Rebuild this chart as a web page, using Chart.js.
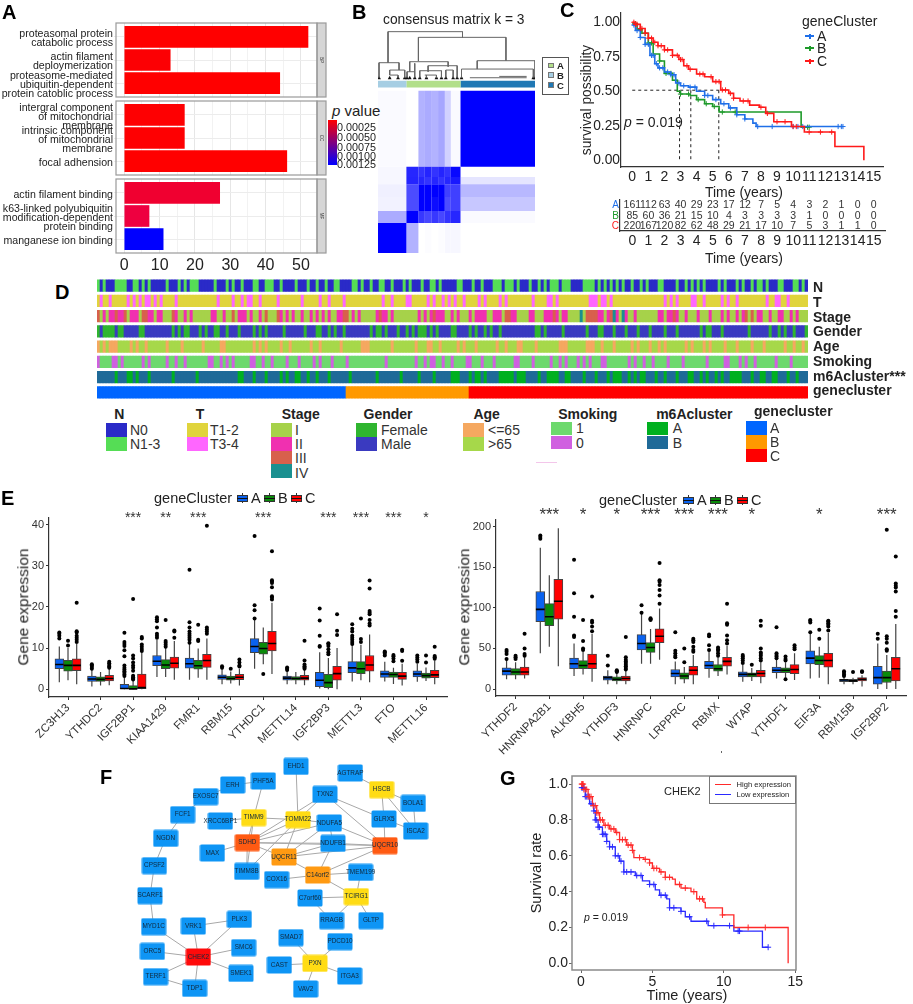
<!DOCTYPE html>
<html>
<head>
<meta charset="utf-8">
<title>Gene cluster figure</title>
<script src="https://cdn.jsdelivr.net/npm/chart.js@4"></script>
<style>
html, body { margin: 0; background: #fff; }
#figure { position: relative; width: 913px; height: 1004px; overflow: hidden; font-family: "Liberation Sans", Arial, sans-serif; }
#figure canvas { position: absolute; }
.t { position: absolute; white-space: nowrap; line-height: 1; color: #222; }
.b { position: absolute; }
</style>
</head>
<body>
<div id="figure"></div>
<script>
// ---- panel A
const goTermsBP = [['proteasomal protein', 'catabolic process'], ['actin filament', 'deploymerization'], ['proteasome-mediated', 'ubiquitin-dependent', 'protein catoblic process']];
const goTermsCC = [['intergral component', 'of mitochondrial', 'membrane'], ['intrinsic component', 'of mitochondrial', 'membrane'], ['focal adhension']];
const goTermsMF = [['actin filament binding'], ['k63-linked polyubiquitin', 'modification-dependent', 'protein binding'], ['manganese ion binding']];
const goCountsBP = [52, 13, 44];
const goCountsCC = [17, 17, 46];
const goCountsMF = [27, 7, 11];
const goColorsBP = ['#ff0000', '#fc0004', '#ff0000'];
const goColorsCC = ['#fe0002', '#fe0002', '#ff0000'];
const goColorsMF = ['#f00030', '#ee0040', '#0000ff'];
const pValueTicks = ['0.00025', '0.00050', '0.00075', '0.00100', '0.00125'];

// ---- panel B (positions in matrix units)
const matrixCols = [25, 110, 146, 165, 185, 205, 225, 243, 272, 495];
const matrixRows = [272, 500, 530, 552, 590, 632, 668, 758];
const matrixAlpha = [
  [0.02, 0, 0.3, 0.33, 0.3, 0.35, 0.18, 0.02, 1],
  [0.03, 0.85, 0.8, 0.86, 0.8, 0.86, 0.8, 0.97, 0],
  [0.03, 0.86, 0.85, 0.8, 0.85, 0.8, 0.85, 0.9, 0.1],
  [0.06, 0.7, 1, 1, 1, 1, 0.75, 0.75, 0.28],
  [0.05, 0.7, 1, 1, 0.95, 1, 0.7, 0.75, 0.22],
  [0.33, 1, 0.78, 0.72, 0.78, 0.72, 0.8, 0.85, 0.02],
  [1, 0.3, 0, 0.01, 0, 0.01, 0.03, 0.03, 0]
];
const annotEdges = [25, 110, 272, 495];
const annotColors = ['#a6cee3', '#b2df8a', '#1f78b4'];
const dendroSegs = [
  [55, 95, 278, 95], [55, 95, 55, 188], [278, 95, 278, 112], [146, 112, 408, 112], [146, 112, 146, 183], [408, 112, 408, 182],
  [322, 182, 495, 182], [322, 182, 322, 207], [495, 182, 495, 232], [275, 207, 490, 207], [275, 207, 275, 232], [490, 207, 490, 232],
  [300, 233, 470, 233], [388, 229, 470, 229],
  [28, 188, 88, 188], [28, 188, 28, 232], [88, 188, 88, 210], [60, 210, 105, 210], [60, 210, 60, 225], [105, 210, 105, 232], [60, 225, 85, 225], [85, 225, 85, 232],
  [120, 185, 235, 185], [120, 185, 120, 215], [235, 185, 235, 200], [112, 215, 135, 215], [112, 215, 112, 232], [135, 190, 135, 232],
  [175, 197, 262, 197], [175, 197, 175, 215], [262, 197, 262, 232], [150, 212, 215, 212], [150, 212, 150, 232], [215, 212, 215, 232],
  [165, 225, 200, 225], [170, 225, 170, 232], [200, 225, 200, 232], [228, 210, 250, 210], [228, 210, 228, 232], [250, 210, 250, 232]
];
const dendroLeaves = [28, 60, 85, 105, 112, 120, 135, 150, 170, 200, 215, 228, 250, 262, 275, 490, 495];

// ---- panel C
const kmYearsA = [0, 0.2, 0.5, 0.8, 1.1, 1.4, 1.6, 2, 2.4, 2.7, 3, 3.5, 4, 4.5, 5, 5.5, 6, 6.5, 7, 7.5, 7.7, 13.1];
const kmSurvA = [0.98, 0.94, 0.89, 0.84, 0.76, 0.7, 0.67, 0.64, 0.62, 0.56, 0.54, 0.53, 0.5, 0.47, 0.44, 0.41, 0.38, 0.33, 0.3, 0.27, 0.245, 0.245];
const kmYearsB = [0, 0.3, 0.6, 1, 1.3, 1.7, 2, 2.5, 2.8, 3, 3.6, 4, 4.5, 5, 5.4, 10.5, 11];
const kmSurvB = [0.99, 0.95, 0.92, 0.85, 0.77, 0.72, 0.63, 0.58, 0.5, 0.48, 0.47, 0.44, 0.41, 0.39, 0.35, 0.24, 0.24];
const kmYearsC = [0, 0.2, 0.5, 0.8, 1, 1.3, 1.6, 2, 2.5, 2.9, 3.2, 3.5, 4, 4.5, 5, 5.5, 6, 6.3, 6.7, 7.3, 7.9, 8.3, 8.8, 9.9, 10.7, 12.6, 14.4, 14.4];
const kmSurvC = [1, 0.985, 0.955, 0.92, 0.885, 0.855, 0.83, 0.8, 0.76, 0.73, 0.685, 0.66, 0.625, 0.605, 0.57, 0.51, 0.485, 0.45, 0.43, 0.4, 0.385, 0.34, 0.28, 0.245, 0.205, 0.1, 0, 0];
const censorA = [0.1, 0.3, 0.5, 0.8, 1, 1.2, 1.3, 1.5, 1.7, 1.9, 2.2, 2.4, 2.6, 2.9, 3.2, 3.6, 3.9, 4.5, 4.7, 5.2, 5.7, 6.1, 6.5, 7, 7.8, 8.7, 10, 10.3, 10.6, 12.8, 13, 13.1];
const censorB = [0.2, 0.5, 0.8, 1, 1.2, 1.7, 2.1, 2.4, 2.7, 3, 3.5, 4.1, 4.6, 5.1, 5.6, 6.4, 10.9, 11];
const censorC = [0.1, 0.2, 0.3, 0.5, 0.6, 0.8, 1, 1.2, 1.4, 1.6, 1.8, 2, 2.2, 2.5, 2.8, 3, 3.1, 3.4, 3.6, 4.2, 4.4, 4.9, 5.2, 5.4, 5.6, 5.8, 6.1, 6.3, 6.9, 7.2, 8, 8.4, 9, 9.5, 10, 10.2, 11, 11.7, 12.4];
const medianYears = [2.94, 3.64, 5.38];
const kmTicks = [0, 1, 2, 3, 4, 5, 6, 7, 8, 9, 10, 11, 12, 13, 14, 15];
const survTicks = [0, 0.25, 0.5, 0.75, 1];
const riskA = [161, 112, 63, 40, 29, 23, 17, 12, 7, 5, 4, 3, 2, 1, 0, 0];
const riskB = [85, 60, 36, 21, 15, 10, 4, 3, 3, 3, 3, 1, 0, 0, 0, 0];
const riskC = [220, 167, 120, 82, 62, 48, 29, 21, 17, 10, 7, 5, 3, 1, 1, 0];

// ---- panel D: sample bins holding the less common level of each track
const sampleCount = 237;
const nGreen = [0, 2, 6, 7, 8, 9, 12, 13, 15, 17, 23, 27, 29, 31, 32, 33, 39, 43, 45, 48, 52, 53, 56, 57, 58, 61, 66, 70, 73, 76, 79, 80, 85, 86, 88, 91, 94, 95, 98, 102, 104, 108, 111, 112, 114, 120, 121, 125, 128, 132, 133, 134, 136, 137, 138, 140, 144, 147, 149, 151, 152, 153, 155, 156, 157, 162, 163, 164, 165, 167, 169, 171, 173, 175, 178, 181, 183, 187, 188, 193, 196, 198, 200, 202, 207, 209, 213, 215, 218, 220, 221, 223, 227, 228, 232, 233, 235];
const tPink = [1, 4, 10, 12, 14, 16, 17, 19, 21, 26, 40, 45, 48, 50, 51, 54, 60, 68, 74, 77, 82, 95, 98, 103, 104, 110, 112, 115, 117, 119, 122, 127, 129, 134, 136, 145, 150, 151, 153, 164, 165, 166, 168, 169, 171, 189, 191, 193, 198, 199, 202, 208, 210, 213, 223, 226, 227, 230];
const stageII = [2, 4, 5, 7, 8, 11, 12, 13, 17, 18, 20, 21, 26, 29, 31, 38, 39, 42, 47, 48, 49, 51, 54, 61, 63, 65, 68, 71, 73, 75, 77, 80, 81, 85, 87, 93, 95, 96, 98, 107, 109, 111, 113, 114, 115, 118, 120, 124, 126, 127, 128, 129, 132, 133, 134, 138, 139, 144, 145, 149, 150, 151, 153, 155, 156, 167, 168, 170, 173, 176, 179, 187, 188, 190, 191, 193, 196, 200, 204, 208, 210, 213, 215, 220, 221, 224, 227, 228, 231, 233];
const stageIII = [0, 6, 9, 15, 16, 25, 45, 56, 60, 82, 83, 94, 112, 136, 137, 152, 163, 164, 165, 166, 171, 192, 216, 218];
const stageIV = [161, 172, 175];
const genderGreen = [0, 2, 3, 4, 5, 7, 8, 14, 15, 25, 27, 29, 30, 34, 36, 39, 40, 43, 47, 52, 54, 56, 62, 69, 73, 74, 77, 79, 82, 91, 93, 94, 96, 100, 103, 105, 107, 108, 109, 111, 113, 118, 119, 124, 126, 129, 131, 134, 146, 147, 149, 155, 163, 167, 168, 172, 176, 180, 184, 189, 193, 201, 203, 204, 208, 217, 224, 227, 229, 232, 236];
const ageOrange = [0, 2, 4, 5, 6, 11, 13, 16, 23, 28, 35, 41, 42, 52, 54, 56, 61, 64, 71, 74, 81, 88, 89, 90, 98, 106, 110, 111, 114, 120, 122, 126, 133, 136, 140, 141, 146, 154, 155, 156, 163, 164, 165, 168, 172, 178, 180, 184, 187, 189, 196, 198, 202, 204, 209, 213, 218, 222, 229, 232, 235];
const smokingPurple = [0, 5, 6, 8, 15, 17, 23, 26, 29, 37, 38, 41, 43, 45, 51, 52, 55, 58, 63, 67, 72, 74, 78, 83, 96, 106, 109, 111, 112, 115, 118, 123, 124, 128, 132, 139, 140, 145, 151, 154, 156, 160, 162, 164, 168, 169, 177, 179, 182, 185, 190, 195, 203, 209, 210, 214, 216, 219, 226, 231];
const m6aGreen = [6, 10, 11, 13, 17, 25, 33, 47, 48, 52, 56, 61, 63, 66, 67, 70, 73, 77, 84, 93, 101, 107, 112, 118, 119, 120, 124, 126, 127, 129, 134, 135, 136, 137, 138, 140, 141, 142, 147, 150, 151, 152, 153, 156, 157, 162, 166, 170, 172, 173, 174, 177, 179, 181, 182, 186, 189, 193, 197, 198, 201, 203, 206, 208, 211, 212, 213, 214, 218, 221, 222, 225, 226, 230, 233];
const geneClusterRuns = [83, 41, 113];
const trackNames = ['N', 'T', 'Stage', 'Gender', 'Age', 'Smoking', 'm6Acluster***', 'genecluster'];

// ---- panel E
const genesLeft = ['ZC3H13', 'YTHDC2', 'IGF2BP1', 'KIAA1429', 'FMR1', 'RBM15', 'YTHDC1', 'METTL14', 'IGF2BP3', 'METTL3', 'FTO', 'METTL16'];
const starsLeft = ['', '', '***', '**', '***', '', '***', '', '***', '***', '***', '*'];
// low whisker, q1, median, q3, high whisker
const leftA = [[1.7, 5, 6, 7.4, 10.4], [0.7, 1.9, 2.5, 3.2, 4.8], [0, 0, 0.2, 1.2, 3], [3, 5.7, 6.8, 8.2, 12], [2.3, 5.1, 6.2, 7.6, 11], [1.2, 2.4, 2.9, 3.5, 5], [5, 8.9, 10.4, 12.3, 17], [1.2, 2.2, 2.7, 3.2, 4.5], [0.2, 0.6, 2.2, 4.1, 9], [1.9, 4, 5.2, 6.7, 10.8], [1.9, 2.9, 3.7, 4.5, 6.7], [1.8, 3, 3.7, 4.5, 6.2]];
const leftB = [[2.2, 4.4, 5.8, 7, 10], [0.9, 1.9, 2.4, 3, 4.2], [0, 0, 0.1, 0.9, 2.2], [3, 5, 5.9, 7.2, 10], [2.8, 4.9, 5.7, 7, 9.9], [1.4, 2.2, 2.6, 3.2, 4.3], [6.1, 8.5, 9.9, 11.4, 15], [1.2, 2.2, 2.6, 3.1, 4.2], [0, 0.4, 1.6, 3.6, 7.6], [2.2, 3.8, 5, 6.7, 10.8], [1.3, 2.9, 3.6, 4.2, 5.2], [2, 2.7, 3.3, 3.9, 5.3]];
const leftC = [[1.2, 4.5, 5.8, 7.4, 11], [1, 2, 2.6, 3.4, 5], [0, 0, 0.4, 3.7, 9], [2.3, 5.1, 6.3, 7.8, 11.7], [2.3, 5.3, 7, 8.5, 12.3], [0.9, 2.3, 2.9, 3.6, 5], [3.7, 9.3, 11.1, 14.1, 21], [1, 2.2, 2.7, 3.4, 4.8], [0, 2.2, 3.8, 5.6, 10], [1.7, 4.4, 5.9, 8.2, 13.3], [0.9, 2.4, 3.2, 4.1, 6.2], [1.2, 2.8, 3.5, 4.6, 7]];
const leftOutA = [[12.3, 13, 13.5, 13.8], [5, 5.4, 5.8, 6.1], [3.2, 3.6, 4, 4.4, 4.8, 5.2, 5.8, 8, 9.5, 10.5, 11, 11.5, 13.7], [12.5, 13, 13.5, 15, 16.5, 17, 17.5], [11.3, 12, 12.5, 13, 13.5, 14, 15, 16.3, 29], [5.2, 5.6], [17.2, 19.2, 20.4, 37.2], [4.7, 5, 5.3], [10.3, 10.5, 13, 16.7, 19.6], [11, 11.5, 12, 12.5, 13, 14, 14.7, 15.8], [8.2, 8.6, 9, 9.2], [6.7, 7.2, 7.7, 8.2]];
const leftOutB = [[10.6, 11.8], [], [2.4, 2.6, 2.9, 3.3, 4.5, 5.2, 5.8, 6.5, 7.5, 8.2, 21.9], [10.3, 10.8, 11.3, 11.7, 16.8], [11.7, 12, 15.7], [5], [3.7], [], [8.5, 9, 9.7, 10.5, 11, 11.2], [11.5, 12.2, 17.2], [6.8, 7.5, 8, 8.3], [6.5, 8.2]];
const leftOutC = [[11.5, 12, 12.5, 13, 13.8, 14.1, 21], [5.2, 5.5, 5.9, 6.3, 6.7], [9.3, 9.8, 10.3, 10.9, 12.3, 12.7], [12.5, 14, 14.3], [13.5, 14, 14.5, 15, 39.7], [5.5, 5.8, 6.5, 7.2], [21.8, 22.3, 22.6, 24.8, 25.8, 26.2, 26.5, 33.5], [5, 5.3, 5.6, 6, 7, 11.8], [13.2, 14.2, 18.2], [15.5, 16, 16.8, 18.2, 18.6, 19, 24.5, 26.4], [6.9, 9.3, 9.6], [7.4, 7.8, 8.1, 10.3]];
const genesRight = ['YTHDF2', 'HNRNPA2B1', 'ALKBH5', 'YTHDF3', 'HNRNPC', 'LRPPRC', 'RBMX', 'WTAP', 'YTHDF1', 'EIF3A', 'RBM15B', 'IGF2BP2'];
const starsRight = ['', '***', '*', '*', '***', '***', '***', '*', '', '*', '', '***'];
const rightA = [[12, 17, 22, 26, 36], [44, 83, 98, 120, 174], [16, 25, 31, 38, 56], [6, 11, 14, 16, 23], [31, 48, 56, 67, 93], [6, 15, 19, 24, 34], [14, 25, 29, 34, 47], [9, 15, 18, 21, 30], [13, 20, 23, 27, 36], [13, 31, 38, 47, 68], [6, 9, 11, 12, 15], [0, 6, 14, 28, 56]];
const rightB = [[12, 17, 21, 25, 33], [52, 78, 89, 105, 140], [18, 25, 29, 35, 46], [6, 10, 12, 15, 20], [31, 45, 51, 57, 74], [7, 12, 16, 20, 27], [16, 22, 25, 30, 39], [10, 15, 18, 20, 26], [14, 20, 23, 26, 33], [14, 30, 35, 41, 52], [6, 9, 10, 12, 14], [0, 8, 14, 22, 42]];
const rightC = [[13, 17, 21, 27, 39], [28, 86, 108, 135, 198], [9, 25, 31, 43, 68], [6, 10, 13, 16, 23], [36, 57, 65, 74, 99], [6, 17, 23, 28, 42], [18, 28, 34, 39, 53], [7, 15, 19, 23, 33], [11, 19, 24, 30, 44], [6, 27, 35, 44, 69], [3, 10, 12, 14, 17], [0, 10, 25, 39, 80]];
const rightOutA = [[37, 43, 46, 48], [185, 187, 189], [64, 66, 89, 118, 159], [29, 41], [94, 103], [39, 41, 44, 47, 70], [48, 54, 65, 67], [32, 35, 38, 40, 42], [38, 40, 42, 44, 76], [70, 82, 84, 85], [16, 18, 20, 22], [62, 68]];
const rightOutB = [[37, 39, 41], [], [48, 50, 59, 85], [21, 22, 23], [85, 86, 87], [33, 50], [41, 44, 47, 49, 51], [30], [12, 35, 37, 40], [62, 73], [21], [47, 49, 57, 62, 65, 196]];
const rightOutC = [[41, 43, 50, 68], [], [71, 77, 82, 84, 114], [24, 26, 28, 30, 32, 34, 36, 39, 64], [105, 115, 122, 128, 132, 134, 155], [46, 48, 52, 58, 60, 62], [56, 60, 66, 79, 81, 105], [35, 38, 41, 43, 45, 50, 78, 84], [49, 51, 54], [72, 77, 79, 81, 83, 84], [21, 22], [89, 96, 120, 125, 127, 130, 163]];

// ---- panel F
const nodeNames = ['EHD1', 'PHF5A', 'ERH', 'AGTRAP', 'HSCB', 'TXN2', 'BOLA1', 'EXOSC7', 'FCF1', 'XRCC6BP1', 'TIMM9', 'TOMM22', 'NDUFA5', 'GLRX5', 'ISCA2', 'NGDN', 'SDHD', 'NDUFB1', 'UQCR10', 'MAX', 'UQCR11', 'CPSF2', 'TIMM8B', 'C14orf2', 'TMEM199', 'COX16', 'SCARF1', 'C7orf60', 'TCIRG1', 'RRAGB', 'GLTP', 'MYD1C', 'VRK1', 'PLK3', 'SMAD7', 'PDCD10', 'SMC6', 'ORC5', 'CHEK2', 'SMEK1', 'PXN', 'CAST', 'ITGA3', 'TERF1', 'TDP1', 'VAV2'];
const nodeX = [828, 730, 638, 991, 1085, 915, 1180, 557, 488, 601, 701, 834, 928, 1092, 1187, 437, 682, 939, 1095, 577, 792, 403, 680, 893, 1022, 770, 390, 870, 1009, 935, 1053, 401, 520, 658, 813, 960, 671, 397, 535, 663, 885, 778, 989, 407, 524, 857];
const nodeY = [64, 108, 120, 84, 134, 148, 175, 155, 209, 228, 218, 224, 234, 222, 258, 280, 293, 295, 302, 324, 336, 362, 379, 390, 382, 404, 452, 459, 455, 527, 527, 545, 543, 523, 578, 590, 608, 619, 636, 685, 655, 660, 693, 695, 730, 732];
const redNodes = ['CHEK2'];
const deepOrangeNodes = ['SDHD', 'UQCR10'];
const orangeNodes = ['UQCR11', 'C14orf2'];
const yellowNodes = ['TIMM9', 'TOMM22', 'HSCB', 'TCIRG1', 'PXN'];
const edgePairs = [['PHF5A', 'ERH'], ['PHF5A', 'TIMM9'], ['ERH', 'EXOSC7'], ['EXOSC7', 'FCF1'], ['FCF1', 'NGDN'], ['NGDN', 'CPSF2'], ['CPSF2', 'SCARF1'], ['SCARF1', 'MYD1C'], ['MYD1C', 'CHEK2'], ['VRK1', 'CHEK2'], ['VRK1', 'PLK3'], ['PLK3', 'CHEK2'], ['SMC6', 'CHEK2'], ['SMEK1', 'CHEK2'], ['ORC5', 'CHEK2'], ['TERF1', 'CHEK2'], ['TERF1', 'TDP1'], ['TDP1', 'CHEK2'], ['EHD1', 'TOMM22'], ['TIMM9', 'XRCC6BP1'], ['TIMM9', 'TOMM22'], ['TIMM9', 'SDHD'], ['TOMM22', 'TXN2'], ['TOMM22', 'SDHD'], ['TOMM22', 'NDUFA5'], ['TOMM22', 'UQCR11'], ['TOMM22', 'TIMM8B'], ['TXN2', 'UQCR10'], ['TXN2', 'SDHD'], ['TXN2', 'GLRX5'], ['NDUFA5', 'SDHD'], ['NDUFA5', 'UQCR10'], ['NDUFA5', 'UQCR11'], ['NDUFB1', 'SDHD'], ['NDUFB1', 'UQCR11'], ['NDUFB1', 'UQCR10'], ['NDUFB1', 'C14orf2'], ['NDUFA5', 'NDUFB1'], ['UQCR10', 'SDHD'], ['UQCR10', 'UQCR11'], ['UQCR10', 'C14orf2'], ['UQCR11', 'SDHD'], ['UQCR11', 'C14orf2'], ['SDHD', 'MAX'], ['SDHD', 'TIMM8B'], ['TIMM9', 'TIMM8B'], ['C14orf2', 'COX16'], ['C14orf2', 'TMEM199'], ['C14orf2', 'TCIRG1'], ['TMEM199', 'TCIRG1'], ['C7orf60', 'TCIRG1'], ['C7orf60', 'RRAGB'], ['RRAGB', 'TCIRG1'], ['GLTP', 'TCIRG1'], ['AGTRAP', 'HSCB'], ['HSCB', 'GLRX5'], ['HSCB', 'BOLA1'], ['HSCB', 'ISCA2'], ['BOLA1', 'ISCA2'], ['GLRX5', 'ISCA2'], ['GLRX5', 'UQCR10'], ['SMAD7', 'PXN'], ['PDCD10', 'PXN'], ['CAST', 'PXN'], ['VAV2', 'PXN'], ['ITGA3', 'PXN']];

// ---- panel G
const gYearsHigh = [0, 0.2, 0.5, 0.8, 1.1, 1.3, 1.6, 2, 2.4, 2.7, 3.2, 3.6, 3.7, 4.4, 4.8, 5, 5.5, 5.9, 6.4, 6.6, 7, 7.7, 8.1, 8.6, 8.7, 9.9, 10.7, 14.5, 14.5];
const gSurvHigh = [1, 0.97, 0.93, 0.88, 0.84, 0.8, 0.77, 0.75, 0.73, 0.69, 0.66, 0.63, 0.59, 0.58, 0.56, 0.53, 0.51, 0.48, 0.47, 0.44, 0.42, 0.4, 0.36, 0.34, 0.31, 0.27, 0.2, 0, 0];
const gYearsLow = [0, 0.3, 0.6, 0.9, 1, 1.2, 1.5, 1.8, 2, 2.4, 2.7, 3, 3.8, 4.3, 4.8, 5.2, 5.5, 6, 6.2, 7, 7.3, 7.7, 8.9, 10.7, 12.7, 13.1];
const gSurvLow = [0.98, 0.93, 0.89, 0.85, 0.8, 0.76, 0.72, 0.68, 0.65, 0.6, 0.57, 0.51, 0.49, 0.46, 0.44, 0.41, 0.38, 0.36, 0.31, 0.29, 0.26, 0.235, 0.21, 0.18, 0.09, 0.09];
const gCensorHigh = [0.05, 0.1, 0.15, 0.2, 0.3, 0.4, 0.5, 0.6, 0.7, 0.85, 1, 1.1, 1.2, 1.35, 1.5, 1.7, 1.9, 2.1, 2.3, 2.5, 2.7, 2.9, 3.1, 3.3, 3.5, 3.6, 4.1, 4.5, 4.8, 5.1, 5.3, 5.6, 5.9, 6.2, 6.9, 7.3, 7.9, 8.3, 8.5, 9.9, 11.7, 12.9];
const gCensorLow = [0.05, 0.1, 0.2, 0.3, 0.4, 0.5, 0.7, 0.9, 1, 1.1, 1.2, 1.3, 1.5, 1.6, 1.7, 1.8, 2, 2.2, 2.4, 2.6, 2.8, 3, 3.2, 3.5, 3.9, 4.2, 4.8, 5.1, 5.6, 5.9, 6.2, 6.5, 7, 7.6, 8.8, 9.3, 10.4, 11, 11.1, 13.1];
const gXTicks = [0, 5, 10, 15];
const gYTicks = [0, 0.2, 0.4, 0.6, 0.8, 1];

// ---- helpers
Chart.defaults.responsive = false;
Chart.defaults.maintainAspectRatio = false;
Chart.defaults.animation = false;
Chart.defaults.events = [];
Chart.defaults.layout.autoPadding = false;
Chart.defaults.font.family = '"Liberation Sans", Arial, sans-serif';
Chart.defaults.plugins.legend.display = false;
Chart.defaults.plugins.tooltip.enabled = false;

const figure = document.getElementById('figure');
const noPad = s => { s.paddingLeft = s.paddingRight = s.paddingTop = s.paddingBottom = 0; };
// fixed axis room, so every plot area lands where the figure has it
const fitX = room => s => { s.height = room; noPad(s); };
const fitY = room => s => { s.width = room; noPad(s); };
const setTicks = vals => s => { s.ticks = vals.map(v => ({ value: v })); };

function panel(x, y, w, h) {
  const c = document.createElement('canvas');
  c.width = w;
  c.height = h;
  c.style.left = x + 'px';
  c.style.top = y + 'px';
  figure.appendChild(c);
  return c;
}

function txt(s, x, y, o = {}) {
  const d = document.createElement('div');
  d.className = 't';
  d.innerHTML = s;
  d.style.left = x + 'px';
  d.style.top = y + 'px';
  d.style.fontSize = (o.size || 12) + 'px';
  if (o.bold) d.style.fontWeight = 'bold';
  if (o.color) d.style.color = o.color;
  const ax = o.align === 'center' ? '-50%' : o.align === 'right' ? '-100%' : '0';
  d.style.transform = `translate(${ax},-50%)` + (o.rot ? ` rotate(${o.rot}deg)` : '');
  figure.appendChild(d);
}

function box(x, y, w, h, color, border) {
  const d = document.createElement('div');
  d.className = 'b';
  d.style.cssText = `left:${x}px;top:${y}px;width:${w}px;height:${h}px;background:${color};` + (border ? `border:${border};box-sizing:border-box;` : '');
  figure.appendChild(d);
  return d;
}

function stepAt(years, surv, t) {
  let v = surv[0];
  for (let i = 0; i < years.length; i++) if (years[i] <= t) v = surv[i];
  return v;
}

function kmLine(years, surv, color, width) {
  return { type: 'scatter', showLine: true, stepped: 'before', data: years.map((x, i) => ({ x, y: surv[i] })), borderColor: color, borderWidth: width, pointRadius: 0, fill: false };
}

function kmCensor(marks, years, surv, color, radius) {
  return { type: 'scatter', data: marks.map(t => ({ x: t, y: stepAt(years, surv, t) })), pointStyle: 'cross', pointRadius: radius, borderColor: color, borderWidth: 1, backgroundColor: color };
}

function segments(list) {
  const pts = [];
  list.forEach(s => { pts.push({ x: s[0], y: s[1] }, { x: s[2], y: s[3] }, { x: NaN, y: NaN }); });
  return pts;
}

function rectShape(x0, x1, y0, y1, color) {
  return { type: 'scatter', showLine: true, fill: 'shape', backgroundColor: color, borderWidth: 0, pointRadius: 0, data: [{ x: x0, y: y0 }, { x: x1, y: y0 }, { x: x1, y: y1 }, { x: x0, y: y1 }, { x: x0, y: y0 }] };
}

// ---- panel A charts
const facetPlugin = {
  id: 'facet',
  afterDraw(chart, args, opts) {
    const { ctx, chartArea: a } = chart;
    ctx.save();
    ctx.strokeStyle = '#9a9a9a';
    ctx.lineWidth = 1.2;
    ctx.fillStyle = '#d6d6d6';
    ctx.fillRect(a.right, a.top, 9, a.bottom - a.top);
    ctx.strokeRect(a.right, a.top, 9, a.bottom - a.top);
    ctx.strokeRect(a.left, a.top, a.right - a.left, a.bottom - a.top);
    ctx.translate(a.right + 4.5, (a.top + a.bottom) / 2);
    ctx.rotate(Math.PI / 2);
    ctx.fillStyle = '#333';
    ctx.font = '4.5px "Liberation Sans"';
    ctx.textAlign = 'center';
    ctx.textBaseline = 'middle';
    ctx.fillText(opts.name, 0, 0);
    ctx.restore();
  }
};

function goFacet(top, terms, counts, colors, name, withAxis) {
  const h = 74;
  const bottomRoom = withAxis ? 22 : 2;
  new Chart(panel(0, top - 2, 330, h + 2 + bottomRoom), {
    type: 'bar',
    plugins: [facetPlugin],
    data: { datasets: [{ data: counts.map((v, i) => ({ x: v, y: i })), backgroundColor: colors, barThickness: 21, indexAxis: 'y' }] },
    options: {
      indexAxis: 'y',
      layout: { padding: { right: 13, top: 2 } },
      plugins: { facet: { name } },
      scales: {
        x: {
          type: 'linear', min: -2.35, max: 54.55, afterFit: fitX(bottomRoom), afterBuildTicks: setTicks([0, 5, 10, 15, 20, 25, 30, 35, 40, 45, 50]),
          grid: { color: c => (c.tick && c.tick.value % 10 === 0 ? '#e6e6e6' : '#f2f2f2'), drawTicks: false },
          border: { display: false },
          ticks: { display: withAxis, maxRotation: 0, autoSkip: false, padding: 3, color: '#222', font: { size: 16 }, callback: v => (v % 10 === 0 ? v : '') }
        },
        y: {
          type: 'linear', reverse: true, offset: false, min: -0.6, max: 2.6, afterFit: fitY(116), afterBuildTicks: setTicks([0, 1, 2]),
          grid: { offset: false, color: '#ececec', tickLength: 2 },
          border: { display: false },
          ticks: { autoSkip: false, padding: 1, labelOffset: 2, color: '#222', font: { size: 10.6, lineHeight: 0.86 }, callback: v => terms[v] }
        }
      }
    }
  });
}
goFacet(23, goTermsBP, goCountsBP, goColorsBP, 'BP', false);
goFacet(101, goTermsCC, goCountsCC, goColorsCC, 'CC', false);
goFacet(179, goTermsMF, goCountsMF, goColorsMF, 'MF', true);

// p value colour bar
txt('<i>p</i> value', 332, 110, { size: 15 });
box(328, 120, 9, 45, 'linear-gradient(#ff0000,#0000ff)');
[127, 137, 146.5, 155.5, 164].forEach((y, i) => txt(pValueTicks[i], 337, y, { size: 10.8 }));

// ---- panel B chart
const matrixSets = [];
matrixAlpha.forEach((row, r) => row.forEach((a, c) => {
  if (a > 0) matrixSets.push(rectShape(matrixCols[c], matrixCols[c + 1], matrixRows[r], matrixRows[r + 1], `rgba(0,0,255,${a})`));
}));
annotColors.forEach((col, i) => matrixSets.push(rectShape(annotEdges[i], annotEdges[i + 1], 242, 262, col)));
matrixSets.push({ type: 'scatter', showLine: true, data: segments(dendroSegs), borderColor: '#666', borderWidth: 1, pointRadius: 0, fill: false });
matrixSets.push({ type: 'scatter', data: dendroLeaves.map(x => ({ x, y: 234 })), pointStyle: 'triangle', pointRadius: 2.2, backgroundColor: '#111', borderWidth: 0 });
new Chart(panel(378, 30, 157, 223), {
  type: 'scatter',
  data: { datasets: matrixSets },
  options: {
    scales: {
      x: { type: 'linear', display: false, min: 25, max: 495 },
      y: { type: 'linear', display: false, min: 90, max: 758, reverse: true }
    }
  }
});
txt('consensus matrix k = 3', 383, 20, { size: 13.8 });
box(542, 57, 27, 38, '#fff', '1px solid #555');
annotColors.forEach((col, i) => {
  const order = [1, 0, 2][i];
  box(548, 62.5 + order * 9.8, 6, 5.8, col, '1px solid #777');
  txt(['B', 'A', 'C'][i], 557, 66 + order * 9.8, { size: 9.5, bold: true });
});

// ---- panel C charts
const medianLines = segments([[0, 0.508, 5.38, 0.508]].concat(medianYears.map(t => [t, 0.508, t, 0])));
new Chart(panel(580, 0, 333, 200), {
  type: 'scatter',
  data: {
    datasets: [
      kmCensor(censorC, kmYearsC, kmSurvC, '#ff1a1a', 2.6), kmLine(kmYearsC, kmSurvC, '#ff1a1a', 1.6),
      kmCensor(censorA, kmYearsA, kmSurvA, '#1f6fe8', 2.6), kmLine(kmYearsA, kmSurvA, '#1f6fe8', 1.6),
      kmCensor(censorB, kmYearsB, kmSurvB, '#1e9a2a', 2.6), kmLine(kmYearsB, kmSurvB, '#1e9a2a', 1.6),
      { type: 'scatter', showLine: true, data: medianLines, borderColor: '#222', borderWidth: 1, borderDash: [3, 3], pointRadius: 0, fill: false }
    ]
  },
  options: {
    layout: { padding: { right: 30, top: 13 } },
    scales: {
      x: { type: 'linear', min: -0.7, max: 15.59, afterFit: fitX(33), afterBuildTicks: setTicks(kmTicks), grid: { display: false, tickLength: 0 }, border: { color: '#333', width: 1.2 }, ticks: { autoSkip: false, maxRotation: 0, padding: 2, color: '#222', font: { size: 14 } } },
      y: { type: 'linear', min: -0.048, max: 1.067, afterFit: fitY(41), afterBuildTicks: setTicks(survTicks), grid: { display: false, tickLength: 0 }, border: { color: '#333', width: 1.2 }, ticks: { autoSkip: false, padding: 1, color: '#222', font: { size: 13.8 }, callback: v => v.toFixed(2) } }
    }
  }
});
txt('survival possibility', 587, 100, { size: 13.8, align: 'center', rot: -90 });
txt('Time (years)', 744, 192, { size: 14, align: 'center' });
txt('<i>p</i> = 0.019', 624, 122, { size: 14 });
txt('geneCluster', 802, 21, { size: 14 });
[['A', '#1f6fe8', 36], ['B', '#1e9a2a', 48], ['C', '#ff1a1a', 61]].forEach(k => {
  box(805, k[2] - 1, 9, 2, k[1]);
  box(809, k[2] - 2.5, 1.5, 5, k[1]);
  txt(k[0], 817, k[2], { size: 14 });
});

const countPlugin = {
  id: 'counts',
  afterDatasetsDraw(chart) {
    const { ctx } = chart;
    ctx.save();
    ctx.font = '10.5px "Liberation Sans"';
    ctx.fillStyle = '#333';
    ctx.textAlign = 'center';
    ctx.textBaseline = 'middle';
    chart.data.datasets.forEach((ds, i) => {
      chart.getDatasetMeta(i).data.forEach((pt, j) => ctx.fillText(ds.counts[j], pt.x, pt.y));
    });
    ctx.restore();
  }
};
const riskRows = [riskC, riskB, riskA];
new Chart(panel(580, 198, 333, 70), {
  type: 'scatter',
  plugins: [countPlugin],
  data: { datasets: riskRows.map((row, r) => ({ counts: row, pointRadius: 0, data: kmTicks.map(t => ({ x: t, y: r })) })) },
  options: {
    layout: { padding: { right: 28, top: 2 } },
    scales: {
      x: { type: 'linear', min: -0.764, max: 15.7, afterFit: fitX(37), afterBuildTicks: setTicks(kmTicks), grid: { display: false, tickLength: 0 }, border: { color: '#333', width: 1.2 }, ticks: { autoSkip: false, maxRotation: 0, padding: 2, color: '#222', font: { size: 14 } } },
      y: { type: 'linear', min: -0.49, max: 2.55, afterFit: fitY(40), afterBuildTicks: setTicks([0, 1, 2]), grid: { display: false, tickLength: 0 }, border: { color: '#333', width: 1.2 }, ticks: { autoSkip: false, padding: 1, color: c => ['#ff1a1a', '#1e9a2a', '#1f6fe8'][c.tick.value], font: { size: 10 }, callback: v => ['C', 'B', 'A'][v] } }
    }
  }
});
txt('Time (years)', 744, 258, { size: 14, align: 'center' });

// ---- panel D chart
const sampleLabels = Array.from({ length: sampleCount }, (_, i) => i + 1);
function twoLevel(list, base, other) {
  const out = new Array(sampleCount).fill(base);
  list.forEach(i => { out[i] = other; });
  return out;
}
const stageColors = new Array(sampleCount).fill('#a6d24a');
stageII.forEach(i => { stageColors[i] = '#f030b0'; });
stageIII.forEach(i => { stageColors[i] = '#d8604c'; });
stageIV.forEach(i => { stageColors[i] = '#1a9090'; });
const clusterColors = [];
['#0066ff', '#ff9900', '#ff0000'].forEach((c, i) => { for (let n = 0; n < geneClusterRuns[i]; n++) clusterColors.push(c); });
const trackColors = [
  twoLevel(nGreen, '#2a2ac8', '#55dd55'), twoLevel(tPink, '#e0d43c', '#ff66ff'), stageColors,
  twoLevel(genderGreen, '#3a3ac0', '#2fb52f'), twoLevel(ageOrange, '#a6d84a', '#f5a860'),
  twoLevel(smokingPurple, '#6dd96d', '#d060e0'), twoLevel(m6aGreen, '#1f6a98', '#00b020'), clusterColors
];
new Chart(panel(97, 278, 711, 122), {
  type: 'bar',
  data: {
    labels: sampleLabels,
    datasets: trackColors.map((colors, t) => ({ label: trackNames[t], data: sampleLabels.map(() => [t + 0.12, t + 0.88]), backgroundColor: colors, borderWidth: 0, barPercentage: 1, categoryPercentage: 1, grouped: false }))
  },
  options: {
    scales: {
      x: { display: false },
      y: { display: false, min: 0, max: 8, reverse: true }
    }
  }
});
trackNames.forEach((n, i) => txt(n, 813, [286.7, 301.7, 316.7, 331, 345.7, 361, 375.7, 390][i], { size: 14, bold: true }));

// D legends
const dLegends = [
  { title: 'N', cx: 119.3, tx: 130, x: 105.7, items: [['N0', '#2a2ac8'], ['N1-3', '#55dd55']], top: 423, ty: 414 },
  { title: 'T', cx: 200, tx: 210, x: 186.7, items: [['T1-2', '#e0d43c'], ['T3-4', '#ff66ff']], top: 423, ty: 414 },
  { title: 'Stage', cx: 300.7, tx: 295, x: 271, items: [['I', '#a6d24a'], ['II', '#f030b0'], ['III', '#d8604c'], ['IV', '#1a9090']], top: 423, ty: 414 },
  { title: 'Gender', cx: 388, tx: 381, x: 355.7, items: [['Female', '#2fb52f'], ['Male', '#3a3ac0']], top: 423, ty: 414 },
  { title: 'Age', cx: 486.7, tx: 488, x: 463.3, items: [['&lt;=65', '#f5a860'], ['&gt;65', '#a6d84a']], top: 423, ty: 414 },
  { title: 'Smoking', cx: 587.7, tx: 576, x: 550.7, items: [['1', '#6dd96d'], ['0', '#d060e0']], top: 421.7, ty: 414 },
  { title: 'm6Acluster', cx: 694.3, tx: 672.7, x: 647.3, items: [['A', '#00b020'], ['B', '#1f6a98']], top: 421.7, ty: 414 },
  { title: 'genecluster', cx: 793.3, tx: 770, x: 745.7, items: [['A', '#0066ff'], ['B', '#ff9900'], ['C', '#ff0000']], top: 421, ty: 411 }
];
dLegends.forEach(g => {
  txt(g.title, g.cx, g.ty, { size: 14, bold: true, align: 'center' });
  g.items.forEach((it, i) => {
    box(g.x, g.top + i * 13.8, 21.2, 13.8, it[1]);
    txt(it[0], g.tx, g.top + 6.5 + i * 14.4, { size: 14, color: '#333' });
  });
});
box(536, 461.5, 21, 1, '#f3c6ea');

// ---- panel E charts
function boxChart(cfg) {
  const off = [-0.267, 0, 0.267];
  const fills = ['#0a62ef', '#0a8a0a', '#ff0000'];
  const whisk = [], meds = [], outs = [];
  const sets = [];
  cfg.boxes.forEach((rows, k) => {
    sets.push({ type: 'bar', data: rows.map((r, i) => ({ x: i + off[k], y: [r[1], r[3]] })), backgroundColor: fills[k], borderColor: '#444', borderWidth: 1, borderSkipped: false, barThickness: cfg.boxW, grouped: false, order: 2 });
    rows.forEach((r, i) => {
      const x = i + off[k];
      whisk.push({ x, y: r[0] }, { x, y: r[4] }, { x: NaN, y: NaN });
      meds.push({ x: x - 0.13, y: r[2] }, { x: x + 0.13, y: r[2] }, { x: NaN, y: NaN });
    });
    cfg.outliers[k].forEach((list, i) => list.forEach(y => outs.push({ x: i + off[k], y })));
  });
  sets.push({ type: 'scatter', showLine: true, data: whisk, borderColor: '#444', borderWidth: 1.2, pointRadius: 0, fill: false, order: 3 });
  sets.push({ type: 'scatter', showLine: true, data: meds, borderColor: '#000', borderWidth: 1.6, pointRadius: 0, fill: false, order: 1 });
  sets.push({ type: 'scatter', data: outs, pointRadius: 2, backgroundColor: '#000', borderWidth: 0, order: 0 });
  const idx = cfg.genes.map((g, i) => i);
  new Chart(panel(cfg.x, 500, cfg.w, 262), {
    type: 'bar',
    data: { datasets: sets },
    options: {
      layout: { padding: { right: cfg.padRight } },
      scales: {
        x: {
          type: 'linear', offset: false, min: cfg.xMin, max: cfg.xMax, afterFit: fitX(cfg.roomBottom), afterBuildTicks: setTicks(idx),
          grid: { offset: false, drawOnChartArea: false, tickLength: 3, color: '#333' }, border: { color: '#333', width: 1.2 },
          ticks: { autoSkip: false, minRotation: 45, maxRotation: 45, padding: 1, color: '#333', font: { size: 11.5 }, callback: v => cfg.genes[v] }
        },
        stars: {
          type: 'linear', position: 'top', axis: 'x', offset: false, min: cfg.xMin, max: cfg.xMax, afterFit: fitX(cfg.roomTop), afterBuildTicks: setTicks(idx),
          grid: { display: false, offset: false, tickLength: 0 }, border: { display: false },
          ticks: { autoSkip: false, maxRotation: 0, padding: cfg.starPad, color: '#333', font: { size: cfg.starSize }, callback: v => cfg.stars[v] }
        },
        y: {
          type: 'linear', min: cfg.yMin, max: cfg.yMax, afterFit: fitY(cfg.roomLeft), afterBuildTicks: setTicks(cfg.yTicks),
          grid: { drawOnChartArea: false, tickLength: 3, color: '#333' }, border: { color: '#333', width: 1.2 },
          ticks: { autoSkip: false, padding: 2, color: '#333', font: { size: 11 } }
        }
      }
    }
  });
}
boxChart({
  x: 0, w: 450, genes: genesLeft, stars: starsLeft, boxes: [leftA, leftB, leftC], outliers: [leftOutA, leftOutB, leftOutC],
  roomLeft: 49, padRight: 3, roomTop: 18, roomBottom: 65, xMin: -0.584, xMax: 11.645, yMin: -1.88, yMax: 41.6, yTicks: [0, 10, 20, 30, 40],
  boxW: 8.7, starPad: -9, starSize: 14
});
boxChart({
  x: 450, w: 463, genes: genesRight, stars: starsRight, boxes: [rightA, rightB, rightC], outliers: [rightOutA, rightOutB, rightOutC],
  roomLeft: 46, padRight: 7, roomTop: 20, roomBottom: 66, xMin: -0.58, xMax: 11.57, yMin: -8.6, yMax: 208, yTicks: [0, 50, 100, 150, 200],
  boxW: 9, starPad: -6, starSize: 17
});
txt('Gene expression', 22.7, 606.7, { size: 15.5, align: 'center', rot: -90 });
txt('Gene expression', 464, 606.7, { size: 15.5, align: 'center', rot: -90 });
function clusterKey(textX, y, keys) {
  txt('geneCluster', textX, y, { size: 14.5 });
  const fills = ['#0a62ef', '#0a8a0a', '#ff0000'];
  ['A', 'B', 'C'].forEach((n, i) => {
    box(keys[i] + 5, y - 5, 1, 10, '#333');
    box(keys[i], y - 3.5, 11, 7, fills[i], '1px solid #333');
    box(keys[i], y - 0.5, 11, 1, '#111');
    txt(n, keys[i] + 14, y, { size: 14.5 });
  });
}
clusterKey(154, 498, [237, 264, 291]);
clusterKey(599, 500, [683, 710, 737]);
box(721, 750.5, 1, 2, '#666');

// ---- panel F chart
function nodeSprite(color) {
  const c = document.createElement('canvas');
  c.width = 26;
  c.height = 18;
  const g = c.getContext('2d');
  g.fillStyle = color;
  g.beginPath();
  g.roundRect(0.5, 0.5, 25, 17, 1.5);
  g.fill();
  return c;
}
const sprites = { blue: nodeSprite('#0e95f5'), red: nodeSprite('#ff0a0a'), deep: nodeSprite('#ff5a12'), orange: nodeSprite('#ff9a12'), yellow: nodeSprite('#ffdc14') };
function nodeKind(name) {
  if (redNodes.includes(name)) return 'red';
  if (deepOrangeNodes.includes(name)) return 'deep';
  if (orangeNodes.includes(name)) return 'orange';
  if (yellowNodes.includes(name)) return 'yellow';
  return 'blue';
}
const nodeAt = name => nodeNames.indexOf(name);
const nodeLabels = {
  id: 'nodeLabels',
  afterDatasetsDraw(chart) {
    const { ctx } = chart;
    const pts = chart.getDatasetMeta(0).data;
    ctx.save();
    ctx.font = '6.4px "Liberation Sans"';
    ctx.fillStyle = '#10283c';
    ctx.textAlign = 'center';
    ctx.textBaseline = 'middle';
    pts.forEach((p, i) => ctx.fillText(nodeNames[i], p.x, p.y));
    ctx.restore();
  }
};
new Chart(panel(20, 745, 440, 259), {
  type: 'scatter',
  plugins: [nodeLabels],
  data: {
    datasets: [
      { data: nodeNames.map((n, i) => ({ x: nodeX[i], y: nodeY[i] })), pointStyle: c => sprites[nodeKind(nodeNames[c.dataIndex])], pointRadius: 6 },
      { showLine: true, data: segments(edgePairs.map(e => [nodeX[nodeAt(e[0])], nodeY[nodeAt(e[0])], nodeX[nodeAt(e[1])], nodeY[nodeAt(e[1])]])), borderColor: '#a8a8a8', borderWidth: 1, pointRadius: 0, fill: false }
    ]
  },
  options: {
    scales: {
      x: { type: 'linear', display: false, min: 0, max: 1320 },
      y: { type: 'linear', display: false, min: 0, max: 777, reverse: true }
    }
  }
});

// ---- panel G chart
const framePlugin = {
  id: 'frame',
  afterDraw(chart) {
    const { ctx, chartArea: a } = chart;
    ctx.save();
    ctx.strokeStyle = '#8a8a8a';
    ctx.lineWidth = 1.5;
    ctx.strokeRect(a.left, a.top, a.right - a.left, a.bottom - a.top);
    ctx.restore();
  }
};
new Chart(panel(520, 760, 393, 244), {
  type: 'scatter',
  plugins: [framePlugin],
  data: {
    datasets: [
      kmCensor(gCensorHigh, gYearsHigh, gSurvHigh, '#ff2a2a', 3), kmCensor(gCensorLow, gYearsLow, gSurvLow, '#2a2aff', 3),
      kmLine(gYearsHigh, gSurvHigh, '#ff2a2a', 1.3), kmLine(gYearsLow, gSurvLow, '#2a2aff', 1.3)
    ]
  },
  options: {
    layout: { padding: { right: 117, top: 16 } },
    scales: {
      x: { type: 'linear', min: -0.63, max: 15.05, afterFit: fitX(34), afterBuildTicks: setTicks(gXTicks), grid: { drawOnChartArea: false, tickLength: 3, color: '#666' }, border: { display: false }, ticks: { autoSkip: false, maxRotation: 0, padding: 1, color: '#222', font: { size: 14 } } },
      y: { type: 'linear', min: -0.037, max: 1.045, afterFit: fitY(52), afterBuildTicks: setTicks(gYTicks), grid: { drawOnChartArea: false, tickLength: 3, color: '#666' }, border: { display: false }, ticks: { autoSkip: false, padding: 1, color: '#222', font: { size: 14 }, callback: v => v.toFixed(1) } }
    }
  }
});
txt('Time (years)', 687, 995, { size: 14.5, align: 'center' });
txt('Survival rate', 536, 873, { size: 14.5, align: 'center', rot: -90 });
txt('<i>p</i> = 0.019', 584, 917, { size: 10.5 });
txt('CHEK2', 664, 791, { size: 11 });
box(708.5, 775.5, 87.5, 28.5, '#fff', '1.5px solid #777');
box(715, 784.3, 15.5, 1.2, '#ff2a2a');
box(715, 793.6, 15.5, 1.2, '#2a2aff');
txt('High expression', 736.5, 785, { size: 7.6 });
txt('Low expression', 736.5, 794.5, { size: 7.6 });

// panel letters
[['A', 2, 12], ['B', 352, 12], ['C', 560, 10], ['D', 55, 292], ['E', 1, 498], ['F', 100, 777], ['G', 500, 778]].forEach(l => {
  txt(l[0], l[1], l[2], { size: 20, bold: true, color: '#000' });
});
</script>
</body>
</html>
